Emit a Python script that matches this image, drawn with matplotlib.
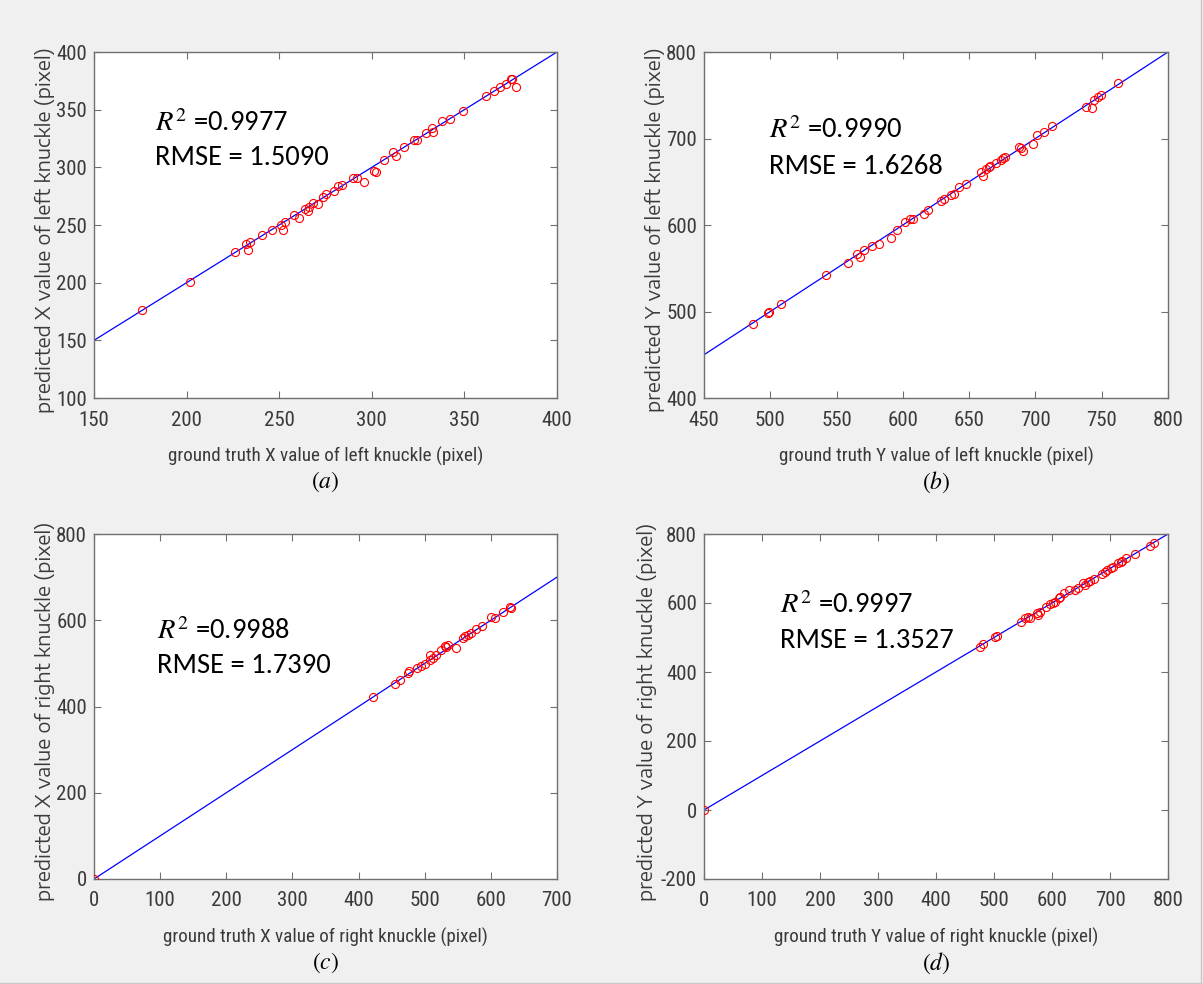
import matplotlib
matplotlib.use('Agg')
import matplotlib.pyplot as plt
from matplotlib.lines import Line2D

W, H = 1203, 984

# (a) left knuckle X
a_true = [176, 202, 226, 232, 233, 234.5, 240.5, 246, 251, 252, 253, 258, 260.6, 264, 266, 265.3,
          268, 271, 273.7, 275.5, 279.7, 282, 284, 290, 292, 295.7, 301.3, 302, 306.7, 311.5, 312.8,
          317.6, 322.8, 324.6, 329, 332.7, 333.3, 338, 342.4, 349, 361.5, 365.8, 369, 372.3, 375,
          375.8, 377.7]
a_pred = [176, 201, 227, 233.8, 228.6, 235, 241, 246, 250, 246, 253, 259, 256.4, 264, 265.6, 262,
          268.8, 268, 274, 277, 279.8, 283.5, 285, 290.8, 290.5, 287, 296.5, 295.7, 306, 313, 309.5,
          318, 323.4, 324, 329.8, 334, 330.3, 340, 342, 349, 361.6, 366, 370, 372.3, 376.6,
          376.9, 369.7]

# (b) left knuckle Y
b_true = [487, 498.2, 499, 507.8, 542.4, 558.3, 565.6, 568, 570.6, 576.8, 582, 591, 595.8, 601.6,
          605.5, 607.3, 615.6, 619.3, 628.4, 630.7, 636, 638.5, 642, 647.7, 658.9, 660.7, 662.8,
          664.8, 666, 670.6, 674, 675.8, 677, 687.5, 688.8, 690.9, 698, 701, 706.2, 712.2, 738.5,
          743, 744.3, 747.4, 749.5, 762.5]
b_pred = [485.5, 498.3, 499.8, 508.7, 542.2, 556, 566.5, 563, 571.5, 576, 578, 585, 594.6, 604,
          607, 607.3, 613, 617.7, 628, 630.4, 635, 636, 643.5, 647.8, 661.7, 657, 664.7, 667.4,
          667.8, 671.7, 675.5, 678, 678.6, 689.8, 689, 685, 693.6, 704.4, 707.5, 714.8, 736.4,
          735, 745, 747.6, 750.7, 763.8]

# (c) right knuckle X
c_true = [0, 422, 454.7, 462.3, 474.8, 476.3, 489, 495, 500, 507.5, 507.5, 512.6, 516.6, 525, 530,
          532.7, 535, 548, 558, 560.3, 565.5, 570.5, 578, 587, 600.7, 606.7, 618.3, 628.4, 631]
c_pred = [0, 421, 453, 460.6, 477.6, 481.5, 489, 493, 499, 508.5, 520, 512.4, 519.3, 531.7, 539.4,
          537.9, 543.3, 535.5, 558.7, 564, 564.8, 570, 579.4, 587, 607.4, 605, 618, 630.6, 628.3]

# (d) right knuckle Y
d_true = [0, 475, 481, 502, 505, 546.7, 552.7, 558.7, 561.6, 573.6, 576.5, 579.5, 590, 597, 601.6,
          605.7, 611.6, 614.6, 620.6, 629.5, 639, 645, 654, 657, 661.7, 671.8, 665.9, 686.7, 691.5,
          695.6, 701.6, 705.8, 713.5, 718.3, 721.3, 727.2, 743.3, 768.9, 776]
d_pred = [0, 473.4, 481, 500.5, 505, 546, 557.5, 558.5, 555.6, 570, 565, 575, 589.4, 596, 599,
          604, 613.5, 618.4, 628, 637.7, 637.7, 642.5, 657, 652, 661.8, 669.6, 664.7, 684, 691,
          695.6, 700.5, 705, 714.5, 719.3, 722.7, 729.5, 741, 765.2, 773]

r2 = ['0.9977', '0.9990', '0.9988', '0.9997']
rmse = ['1.5090', '1.6268', '1.7390', '1.3527']
xlabels = ['ground truth X value of left knuckle (pixel)',
           'ground truth Y value of left knuckle (pixel)',
           'ground truth X value of right knuckle (pixel)',
           'ground truth Y value of right knuckle (pixel)']
ylabels = ['predicted X value of left knuckle (pixel)',
           'predicted Y value of left knuckle (pixel)',
           'predicted X value of right knuckle (pixel)',
           'predicted Y value of right knuckle (pixel)']
tags = ['(a)', '(b)', '(c)', '(d)']
xlims = [(150, 400), (450, 800), (0, 700), (0, 800)]
ylims = [(100, 400), (400, 800), (0, 800), (-200, 800)]
xticks = [range(150, 401, 50), range(450, 801, 50), range(0, 701, 100), range(0, 801, 100)]
yticks = [range(100, 401, 50), range(400, 801, 100), range(0, 801, 200), range(-200, 801, 200)]
fit_slope = [1.0, 1.0, 1.0, 1.0]
fit_icpt = [0.0, 0.0, 0.0, 0.0]

# axes boxes in pixels: left, top, right, bottom
boxes = [(94, 52, 557, 398), (704, 52, 1168, 398), (94, 534, 557, 879), (704, 534, 1168, 879)]
# text x, R^2 line y, RMSE line y (axes fraction)
txt_pos = [(0.132, 0.795, 0.694), (0.14, 0.775, 0.668), (0.136, 0.72, 0.62), (0.163, 0.795, 0.69)]
# gap from axes edge to right side of the y label (px)
ylab_gap = [39, 39, 39, 47]

plt.rcParams['mathtext.fontset'] = 'stix'
plt.rcParams['axes.unicode_minus'] = False
narrow = ['Roboto Condensed', 'Liberation Sans']
wide = ['Encode Sans Expanded', 'DejaVu Sans']
calibri = ['Carlito', 'Lato', 'Open Sans']
txt_col = '#3a3a3a'

fig = plt.figure(figsize=(W / 100, H / 100), dpi=100)
fig.patch.set_facecolor('#f0f0f0')

data = [(a_true, a_pred), (b_true, b_pred), (c_true, c_pred), (d_true, d_pred)]
for i, (gt, pr) in enumerate(data):
    l, t, r, b = boxes[i]
    ax = fig.add_axes([l / W, 1 - b / H, (r - l) / W, (b - t) / H])
    ax.set_facecolor('white')
    ax.plot(gt, pr, 'o', mfc='none', mec='red', ms=5.8, mew=0.8, zorder=3)
    x0, x1 = xlims[i]
    ax.plot([x0, x1], [fit_slope[i] * x0 + fit_icpt[i], fit_slope[i] * x1 + fit_icpt[i]],
            color='blue', lw=0.9, zorder=2)
    ax.set_xlim(xlims[i])
    ax.set_ylim(ylims[i])
    ax.set_xticks(list(xticks[i]))
    ax.set_yticks(list(yticks[i]))
    ax.tick_params(direction='in', top=True, right=True, length=5, width=0.8,
                   colors='#707070', labelcolor=txt_col, labelsize=15)
    ax.tick_params(axis='x', pad=9)
    ax.tick_params(axis='y', pad=5)
    for lab in ax.get_xticklabels() + ax.get_yticklabels():
        lab.set_family(narrow)
    for sp in ax.spines.values():
        sp.set_color('#707070')
        sp.set_linewidth(1.0)
    hpx = b - t
    ax.set_xlabel(xlabels[i], family=narrow, fontsize=13.8, color=txt_col, va='center')
    ax.xaxis.set_label_coords(0.5, -58 / hpx)
    ax.set_ylabel(ylabels[i], family=wide, fontsize=13.6, color=txt_col)
    ax.yaxis.set_label_coords(-ylab_gap[i] / (r - l), 0.5 - 5 / hpx)
    tx, ty1, ty2 = txt_pos[i]
    ax.text(tx, ty1, r'$R^2$ =' + r2[i], transform=ax.transAxes, fontsize=20.5,
            family=calibri, va='center', ha='left')
    ax.text(tx, ty2, 'RMSE = ' + rmse[i], transform=ax.transAxes, fontsize=20.5,
            family=calibri, va='center', ha='left')
    cx = (l + r) / 2 / W
    fig.text(cx, 1 - (b + 84) / H, '$' + tags[i] + '$', ha='center', va='center', fontsize=17)

# thin frame on the right and bottom edges of the screenshot
fig.add_artist(Line2D([1201 / W, 1201 / W], [1 - 983 / H, 1], color='#c8c8c8', lw=1))
fig.add_artist(Line2D([0, 1201 / W], [1 - 983 / H, 1 - 983 / H], color='#c8c8c8', lw=1))

fig.savefig('out.png', dpi=100, facecolor=fig.get_facecolor())
